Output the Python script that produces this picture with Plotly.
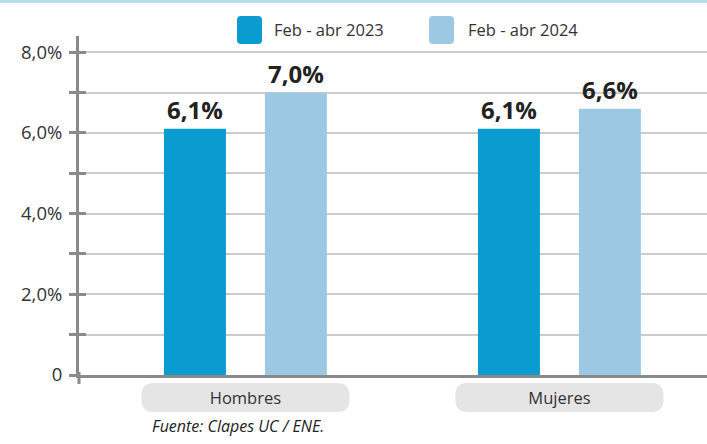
import plotly.graph_objects as go

categories = ["Hombres", "Mujeres"]
series_names = ["Feb - abr 2023", "Feb - abr 2024"]
values_2023 = [6.1, 6.1]
values_2024 = [7.0, 6.6]
colors = ["#0a9bd1", "#9cc8e4"]
y_tickvals = [0, 1, 2, 3, 4, 5, 6, 7, 8]
y_ticktext = ["0", "", "2,0%", "", "4,0%", "", "6,0%", "", "8,0%"]
source = "Fuente: Clapes UC / ENE."

AXIS = "#8a8a8a"
W, H = 707, 444
L, R, T, B = 79, 0, 36, 69
PW, PH = W - L - R, H - T - B

def px_x(px):
    return (px - L) / PW

def px_y(py):
    return (H - B - py) / PH

fig = go.Figure()
for name, vals, col in zip(series_names, [values_2023, values_2024], colors):
    fig.add_trace(go.Bar(
        x=categories, y=vals, name=name, marker_color=col, marker_line_width=0,
        texttemplate="%{y:.1f}%", textposition="outside", cliponaxis=False,
        textfont=dict(family="Open Sans", size=24, color="#222222", weight="bold"),
        showlegend=False,
    ))

# invisible trace for inner ticks axis
fig.add_trace(go.Scatter(x=[categories[0]], y=[0], yaxis="y2", mode="markers",
                         marker=dict(opacity=0), showlegend=False, hoverinfo="skip"))

def rrect(hw, hh, r):
    return (f"M {-hw + r},{-hh} L {hw - r},{-hh} Q {hw},{-hh} {hw},{-hh + r} "
            f"L {hw},{hh - r} Q {hw},{hh} {hw - r},{hh} L {-hw + r},{hh} "
            f"Q {-hw},{hh} {-hw},{hh - r} L {-hw},{-hh + r} Q {-hw},{-hh} {-hw + r},{-hh} Z")

shapes = []
# category pills
for i, c in enumerate(categories):
    shapes.append(dict(type="path", xref="x", yref="paper", xsizemode="pixel", ysizemode="pixel",
                       xanchor=i, yanchor=px_y(397.5), path=rrect(104, 14.5, 12),
                       fillcolor="#e5e5e5", line=dict(width=0), layer="below"))
# y-axis extension below zero
shapes.append(dict(type="line", xref="paper", yref="paper", x0=0, x1=0, y0=px_y(372), y1=px_y(384),
                   line=dict(color=AXIS, width=3)))
# top border line
shapes.append(dict(type="line", xref="paper", yref="paper", x0=-L / PW, x1=1, y0=px_y(1.5), y1=px_y(1.5),
                   line=dict(color="#b9dce9", width=3)))

annotations = []
leg_sq = [249.5, 441.5]
leg_tx = [272, 466]
for name, col, sx, tx in zip(series_names, colors, leg_sq, leg_tx):
    shapes.append(dict(type="path", xref="paper", yref="paper", xsizemode="pixel", ysizemode="pixel",
                       xanchor=px_x(sx), yanchor=px_y(30), path=rrect(12.5, 14, 4),
                       fillcolor=col, line=dict(width=0)))
    annotations.append(dict(text=name, xref="paper", yref="paper", x=px_x(tx), y=px_y(30),
                            xanchor="left", yanchor="middle", showarrow=False,
                            font=dict(family="Open Sans", size=16.5, color="#333333")))

annotations.append(dict(text=f"<i>{source}</i>", xref="paper", yref="paper", x=px_x(150), y=px_y(426),
                        xanchor="left", yanchor="middle", showarrow=False,
                        font=dict(family="Open Sans", size=16, color="#222222")))

fig.update_layout(
    width=W, height=H, margin=dict(l=L, r=R, t=T, b=B, autoexpand=False),
    paper_bgcolor="white", plot_bgcolor="white",
    separators=",.",
    barmode="group", bargap=0.357, bargroupgap=0.386,
    font=dict(family="Open Sans", color="#333333"),
    xaxis=dict(type="category", range=[-0.53, 1.47], showline=True, linecolor=AXIS, linewidth=3,
               ticks="", showgrid=False, tickfont=dict(size=16.5, color="#333333"),
               ticklabelstandoff=6, fixedrange=True),
    yaxis=dict(range=[0, 8.4], tickvals=y_tickvals, ticktext=y_ticktext, showline=True,
               linecolor=AXIS, linewidth=3, ticks="outside", ticklen=7, tickwidth=3, tickcolor=AXIS,
               showgrid=True, gridcolor="#cccccc", gridwidth=1.5, zeroline=False,
               tickfont=dict(size=18.5, color="#333333"), ticklabelstandoff=3),
    yaxis2=dict(range=[0, 8.4], overlaying="y", side="left", tickvals=y_tickvals, showticklabels=False,
                ticks="inside", ticklen=7, tickwidth=3, tickcolor=AXIS, showgrid=False,
                zeroline=False, showline=False),
    shapes=shapes, annotations=annotations, showlegend=False,
)

fig.write_html("out.html", config={"displayModeBar": False},
               post_script="document.body.style.margin='0';document.body.style.overflow='hidden';")
